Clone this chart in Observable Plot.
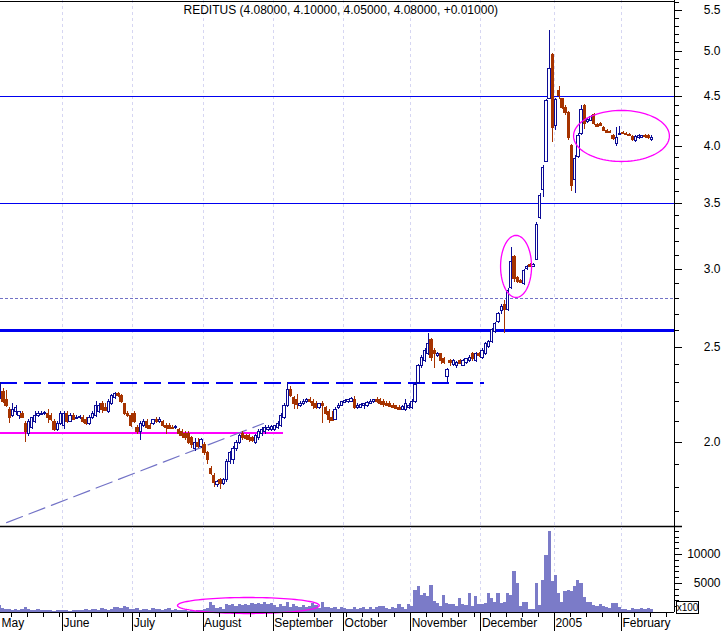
<!DOCTYPE html>
<html><head><meta charset="utf-8">
<script src="https://cdn.jsdelivr.net/npm/d3@7"></script>
<script src="https://cdn.jsdelivr.net/npm/@observablehq/plot@0.6"></script>
<style>
html,body{margin:0;padding:0;background:#fff;}
#chart{width:723px;height:631px;position:relative;overflow:hidden;background:#fff;}
#chart svg{display:block;}
</style></head><body><div id="chart"></div>
<script>
// ---- DATA (trading days from 4 May 2004 to 14 Feb 2005) ----
const open = [
2.22,2.25,2.21,2.16,2.13,2.15,2.13,2.14,2.09,2.04,2.07,2.10,2.13,2.135,2.14,2.14,2.13,2.10,2.06,2.09,
2.08,2.14,2.10,2.13,2.115,2.12,2.12,2.11,2.09,2.12,2.13,2.15,2.19,2.17,2.15,2.19,2.22,2.24,2.23,2.19,2.14,2.13,
2.14,2.07,2.05,2.08,2.10,2.08,2.09,2.11,2.10,2.10,2.08,2.08,2.07,2.07,2.06,2.05,2.04,2.04,2.02,1.97,2.00,1.98,
1.99,1.95,1.88,1.85,1.81,1.83,1.815,1.83,1.91,1.92,1.97,2.00,2.04,2.03,2.03,2.02,2.00,2.02,2.04,2.05,2.06,2.06,
2.06,2.07,2.08,2.12,2.18,2.26,2.22,2.21,2.18,2.19,2.20,2.21,2.20,2.19,2.17,2.19,2.17,2.15,2.12,2.11,2.17,2.18,
2.195,2.20,2.20,2.21,2.17,2.17,2.18,2.18,2.19,2.20,2.21,2.21,2.20,2.19,2.19,2.18,2.18,2.17,2.16,2.16,2.17,
2.17,2.20,2.30,2.39,2.42,2.46,2.54,2.48,2.45,2.46,2.43,2.33,2.42,2.40,2.39,2.42,2.39,2.41,2.42,2.46,2.42,2.46,
2.44,2.46,2.50,2.53,2.59,2.65,2.72,2.76,2.73,2.87,3.09,2.94,2.92,2.90,3.00,3.03,3.02,3.07,3.38,3.61,3.86,4.47,4.95,
4.20,4.56,4.47,4.38,4.33,4.00,3.70,3.90,4.12,4.40,4.24,4.25,4.31,4.21,4.22,4.18,4.15,4.14,4.10,4.02,4.11,
4.13,4.12,4.11,4.09,4.05,4.08,4.085,4.10,4.10,4.06];
const high = [
2.30,2.27,2.26,2.17,2.19,2.18,2.15,2.15,2.10,2.11,2.12,2.15,2.15,2.15,2.15,2.16,2.14,2.11,2.10,2.15,
2.15,2.15,2.14,2.14,2.13,2.13,2.13,2.12,2.13,2.15,2.20,2.19,2.20,2.19,2.21,2.24,2.25,2.25,2.24,2.19,2.15,2.14,
2.15,2.08,2.10,2.11,2.11,2.09,2.11,2.12,2.12,2.105,2.09,2.09,2.08,2.08,2.065,2.06,2.05,2.05,2.03,2.02,2.02,2.02,
2.00,1.96,1.89,1.86,1.83,1.84,1.84,1.92,1.96,1.98,2.01,2.04,2.05,2.04,2.04,2.03,2.04,2.06,2.07,2.08,2.08,2.08,
2.08,2.10,2.14,2.19,2.30,2.28,2.23,2.24,2.20,2.21,2.215,2.22,2.21,2.20,2.19,2.20,2.175,2.16,2.15,2.17,2.19,2.20,
2.21,2.21,2.22,2.23,2.19,2.19,2.19,2.20,2.21,2.21,2.22,2.215,2.21,2.20,2.20,2.19,2.18,2.18,2.18,2.21,2.19,
2.21,2.30,2.40,2.45,2.49,2.58,2.55,2.49,2.47,2.46,2.44,2.38,2.43,2.43,2.42,2.43,2.43,2.43,2.45,2.47,2.47,2.47,
2.49,2.53,2.54,2.61,2.65,2.71,2.76,2.79,2.87,3.16,3.10,2.95,2.93,3.00,3.03,3.04,3.04,3.35,3.58,3.83,4.47,5.25,4.97,
4.48,4.60,4.48,4.40,4.34,4.02,3.92,4.12,4.40,4.41,4.27,4.30,4.32,4.22,4.23,4.19,4.16,4.15,4.11,4.18,4.19,
4.14,4.13,4.12,4.10,4.10,4.11,4.10,4.11,4.11,4.10];
const low = [
2.21,2.19,2.17,2.09,2.12,2.13,2.11,2.12,2.00,2.03,2.06,2.09,2.12,2.13,2.13,2.09,2.10,2.05,2.05,2.08,
2.06,2.09,2.10,2.11,2.11,2.11,2.09,2.08,2.08,2.11,2.12,2.14,2.14,2.15,2.14,2.18,2.21,2.22,2.19,2.13,2.12,2.07,
2.09,2.04,2.01,2.07,2.06,2.06,2.08,2.09,2.09,2.07,2.04,2.06,2.06,2.06,2.03,2.02,2.01,1.99,1.97,1.96,1.97,1.97,
1.94,1.90,1.85,1.80,1.80,1.79,1.81,1.82,1.90,1.90,1.96,1.99,2.01,2.01,2.00,2.00,1.99,2.01,2.03,2.04,2.05,2.05,
2.05,2.06,2.07,2.11,2.17,2.22,2.16,2.16,2.17,2.18,2.19,2.19,2.16,2.16,2.16,2.09,2.13,2.09,2.10,2.11,2.16,2.18,
2.19,2.19,2.20,2.16,2.16,2.17,2.16,2.17,2.19,2.19,2.19,2.18,2.17,2.18,2.17,2.17,2.16,2.16,2.16,2.15,2.16,
2.16,2.19,2.30,2.38,2.41,2.45,2.42,2.38,2.44,2.40,2.40,2.30,2.39,2.39,2.38,2.40,2.39,2.40,2.41,2.42,2.41,2.44,
2.43,2.45,2.49,2.52,2.58,2.64,2.70,2.58,2.72,2.86,2.91,2.90,2.90,2.89,2.99,3.01,3.01,3.06,3.37,3.55,3.85,4.46,4.04,
4.15,4.47,4.36,4.30,4.06,3.60,3.58,3.89,4.10,4.16,4.22,4.24,4.20,4.18,4.19,4.14,4.12,4.12,4.06,4.00,4.10,
4.11,4.10,4.09,4.05,4.04,4.07,4.08,4.08,4.07,4.05];
const close = [
2.29,2.20,2.18,2.12,2.16,2.17,2.15,2.12,2.05,2.10,2.12,2.13,2.14,2.14,2.145,2.12,2.11,2.06,2.09,2.14,
2.14,2.10,2.13,2.11,2.12,2.125,2.10,2.09,2.12,2.14,2.18,2.18,2.16,2.155,2.20,2.23,2.24,2.23,2.20,2.14,2.13,2.08,
2.10,2.05,2.09,2.10,2.07,2.065,2.11,2.10,2.11,2.08,2.07,2.065,2.065,2.075,2.04,2.03,2.02,2.00,1.99,2.00,1.98,2.01,
1.95,1.92,1.86,1.82,1.825,1.815,1.83,1.91,1.95,1.97,2.00,2.03,2.02,2.015,2.01,2.005,2.03,2.05,2.06,2.07,2.07,2.075,
2.08,2.09,2.13,2.18,2.26,2.23,2.19,2.185,2.19,2.20,2.21,2.20,2.18,2.17,2.19,2.18,2.14,2.11,2.105,2.16,2.18,2.20,
2.205,2.21,2.215,2.17,2.18,2.185,2.19,2.195,2.20,2.21,2.20,2.19,2.185,2.18,2.175,2.17,2.165,2.16,2.175,2.19,2.18,
2.20,2.29,2.39,2.44,2.48,2.52,2.44,2.46,2.46,2.42,2.41,2.37,2.41,2.42,2.41,2.405,2.42,2.43,2.44,2.43,2.46,2.45,
2.48,2.52,2.53,2.60,2.64,2.70,2.75,2.73,2.85,3.05,2.93,2.91,2.905,2.99,3.02,3.02,3.03,3.33,3.56,3.80,4.45,4.80,4.18,
4.46,4.50,4.38,4.33,4.08,3.65,3.88,4.10,4.36,4.22,4.26,4.29,4.22,4.19,4.20,4.15,4.13,4.125,4.07,4.08,4.12,
4.12,4.11,4.10,4.06,4.09,4.10,4.10,4.09,4.08,4.08];
// volume in hundreds of shares (axis "x100")
const volume = [
1200,700,500,600,400,500,400,500,900,600,400,300,500,400,300,400,300,250,350,400,
300,400,250,300,350,300,400,450,300,500,600,400,700,500,400,600,800,900,700,1000,800,600,
500,700,400,600,500,400,700,500,600,400,500,700,400,500,300,400,300,250,300,200,350,400,
500,700,1700,1200,700,800,600,1400,1200,1300,1100,1300,1200,1400,1200,1500,1400,1600,1300,1800,1300,1500,
1200,800,1400,1000,1700,900,1300,1100,800,1200,900,1000,1600,1200,700,1800,900,800,700,900,600,800,
700,600,500,800,600,700,900,600,800,500,900,1000,1100,700,600,800,700,1300,900,600,1400,
1000,3850,4400,3000,3300,2700,4700,1850,1550,1000,3000,1500,1300,1400,1000,2400,1300,1200,3300,1100,2700,1300,
1300,1500,3300,2400,1800,3300,1500,1800,3300,2900,7000,5000,1000,1800,1800,500,600,5000,1200,5600,9800,13900,5300,
6400,3300,1800,3600,3800,3700,4400,5600,5000,2500,1800,1800,1200,1100,1300,1000,800,700,1500,1600,800,
600,500,400,700,600,500,650,600,650,500];

const monthLabels = ["May","June","July","August","September","October","November","December","2005","February"];
const monthStart = [-1,20,42,64,86,108,129,151,174,195];   // bar index of each month's first trading day
const firstMonday = 4;                                     // 10 May 2004
const priceMajor = [2.0,2.5,3.0,3.5,4.0,4.5,5.0,5.5];
const volumeMajor = [5000,10000];
const solidLevels = [4.5,3.5];
const thickLevel = [2.6];
const dottedLevel = [2.8];
const resistance = {p: 2.30, from: 0, to: 151.6};
const support = {p: 2.047, from: 0, to: 88.7};
const trend = [{i: 2.0, p: 1.658}, {i: 82.4, p: 2.091}];
const priceRings = [{i: 161.5, r: 4.85, lo: 2.809, hi: 3.248}, {i: 194.5, r: 15.0, lo: 3.862, hi: 4.352}];
const volumeRing = {i: 77.7, r: 22.2, v: 1207, rv: 1379};
const titleText = "REDITUS (4.08000, 4.10000, 4.05000, 4.08000, +0.01000)";

// ---- LAYOUT ----
const xLo = 0.094, xHi = 211.1;          // bar-index domain of the plotting area
const kx = (xHi - xLo) / 674;           // index units per pixel
const yDom = [1.643, 5.63];
const vMax = 14654, kv = vMax / 85;      // volume units per pixel
const BLUE = "#0c0c96", BROWN = "#a63300", LINE = "#0000f0", SOFT = "#7272c6",
      MAG = "#ff00ff", GRID = "#d6d6f2", VOLC = "#7b7bc8";
const FONT = "'Liberation Sans', Arial, sans-serif";

const bars = open.map((o, i) => ({i, o, h: high[i], l: low[i], c: close[i], v: volume[i]}));
const up = d => d.c >= d.o;

const ringPts = [];
priceRings.forEach((r, k) => {
  const a = Math.log(r.lo), b = Math.log(r.hi);
  for (let j = 0; j <= 96; j++) {
    const t = j / 96 * 2 * Math.PI;
    ringPts.push({k, x: r.i + r.r * Math.cos(t), y: Math.exp((a + b) / 2 + (b - a) / 2 * Math.sin(t))});
  }
});
const volRingPts = d3.range(97).map(j => {
  const t = j / 96 * 2 * Math.PI;
  return {x: volumeRing.i + volumeRing.r * Math.cos(t), y: volumeRing.v + volumeRing.rv * Math.sin(t)};
});
const priceMinor = d3.range(17, 57).map(d => d / 10).filter(d => !priceMajor.some(m => Math.abs(m - d) < 1e-9));
const volumeMinor = d3.range(1000, 15000, 1000).filter(d => !volumeMajor.includes(d));
const mondays = d3.range(firstMonday, Math.floor(xHi) + 1, 5);
const crisp = {shapeRendering: "crispEdges"};

const pricePlot = Plot.plot({
  width: 723, height: 527, marginLeft: 0, marginRight: 49, marginTop: 0, marginBottom: 1,
  x: {domain: [xLo, xHi], axis: null},
  y: {type: "log", domain: yDom, axis: null},
  style: {background: "white", fontFamily: FONT, fontSize: "12px", overflow: "visible"},
  marks: [
    Plot.ruleX(monthStart, {x: d => d - 0.5, stroke: GRID, strokeDasharray: "3,3", ...crisp}),
    Plot.ruleY(solidLevels, {stroke: LINE, strokeWidth: 1, ...crisp}),
    Plot.ruleY(thickLevel, {stroke: LINE, strokeWidth: 3, ...crisp}),
    Plot.ruleY(dottedLevel, {stroke: SOFT, strokeDasharray: "3,2", ...crisp}),
    Plot.ruleY([resistance], {y: "p", x1: "from", x2: "to", stroke: LINE, strokeWidth: 2, strokeDasharray: "17,7", ...crisp}),
    Plot.ruleY([support], {y: "p", x1: "from", x2: "to", stroke: MAG, strokeWidth: 2, ...crisp}),
    Plot.line(trend, {x: "i", y: "p", stroke: SOFT, strokeWidth: 1.2, strokeDasharray: "17,7"}),
    Plot.ruleX(bars, {x: "i", y1: "l", y2: "h", stroke: d => up(d) ? BLUE : BROWN, strokeWidth: 1, ...crisp}),
    Plot.rect(bars, {x1: d => d.i - 0.36, x2: d => d.i + 0.36,
      y1: d => Math.min(d.o, d.c), y2: d => Math.max(d.o, d.c),
      fill: d => up(d) ? "white" : BROWN, stroke: d => up(d) ? BLUE : BROWN, strokeWidth: 1, ...crisp}),
    Plot.line(ringPts, {x: "x", y: "y", z: "k", stroke: MAG, strokeWidth: 1.3}),
    Plot.ruleX([xHi], {stroke: "black", ...crisp}),
    Plot.ruleY([yDom[1]], {stroke: "black", dy: 0.5, ...crisp}),
    Plot.ruleY([yDom[0]], {x1: xLo, x2: xHi + 8 * kx, stroke: "black", strokeWidth: 1.5}),
    Plot.ruleY(priceMajor, {x1: xHi, x2: xHi + 8 * kx, stroke: "black", ...crisp}),
    Plot.ruleY(priceMinor, {x1: xHi, x2: xHi + 5 * kx, stroke: "black", ...crisp}),
    Plot.text(priceMajor, {y: d => d, text: d => d.toFixed(1), frameAnchor: "right", dx: 46,
      textAnchor: "end", fontSize: 12, fill: "black"}),
    Plot.text([titleText], {text: d => d, frameAnchor: "top-left", dx: 183, dy: 10,
      textAnchor: "start", lineAnchor: "middle", fontSize: 12, fill: "black"})
  ]
});

const volumePlot = Plot.plot({
  width: 723, height: 104, marginLeft: 0, marginRight: 49, marginTop: 0, marginBottom: 19,
  x: {domain: [xLo, xHi], axis: null},
  y: {domain: [0, vMax], axis: null},
  style: {background: "white", fontFamily: FONT, fontSize: "12px", overflow: "visible"},
  marks: [
    Plot.ruleX(monthStart, {x: d => d - 0.5, stroke: GRID, strokeDasharray: "3,3", ...crisp}),
    Plot.rect(bars, {x1: d => d.i - 0.5, x2: d => d.i + 0.5, y1: d => 0, y2: "v", fill: VOLC, ...crisp}),
    Plot.line(volRingPts, {x: "x", y: "y", stroke: MAG, strokeWidth: 1.3}),
    Plot.ruleY([0], {x1: xLo, x2: xHi, stroke: "black", ...crisp}),
    Plot.ruleX([xHi], {stroke: "black", ...crisp}),
    Plot.ruleX(monthStart, {x: d => d - 0.5, y1: d => 0, y2: d => -19 * kv, stroke: "black", ...crisp}),
    Plot.ruleX(mondays, {x: d => d - 0.5, y1: d => 0, y2: d => -5 * kv, stroke: "black", ...crisp}),
    Plot.text(monthLabels, {x: (d, i) => Math.max(monthStart[i] - 0.5, xLo), frameAnchor: "bottom", dy: 11, dx: 1,
      textAnchor: "start", lineAnchor: "middle", fontSize: 12, fill: "black"}),
    Plot.ruleY(volumeMajor, {x1: xHi, x2: xHi + 8 * kx, stroke: "black", ...crisp}),
    Plot.ruleY(volumeMinor, {x1: xHi, x2: xHi + 5 * kx, stroke: "black", ...crisp}),
    Plot.text(volumeMajor, {y: d => d, text: d => String(d), frameAnchor: "right", dx: 46,
      textAnchor: "end", fontSize: 12, fill: "black"}),
    Plot.rect([{a: 0}], {x1: xHi + 2 * kx, x2: xHi + 24 * kx, y1: d => -1 * kv, y2: d => 11 * kv,
      fill: "white", stroke: "black", ...crisp}),
    Plot.text(["x100"], {x: xHi + 13 * kx, y: d => 5 * kv, text: d => d, fontSize: 10, fill: "black",
      textAnchor: "middle", lineAnchor: "middle"})
  ]
});

const host = document.getElementById("chart");
host.appendChild(pricePlot);
host.appendChild(volumePlot);
</script>
</body></html>
